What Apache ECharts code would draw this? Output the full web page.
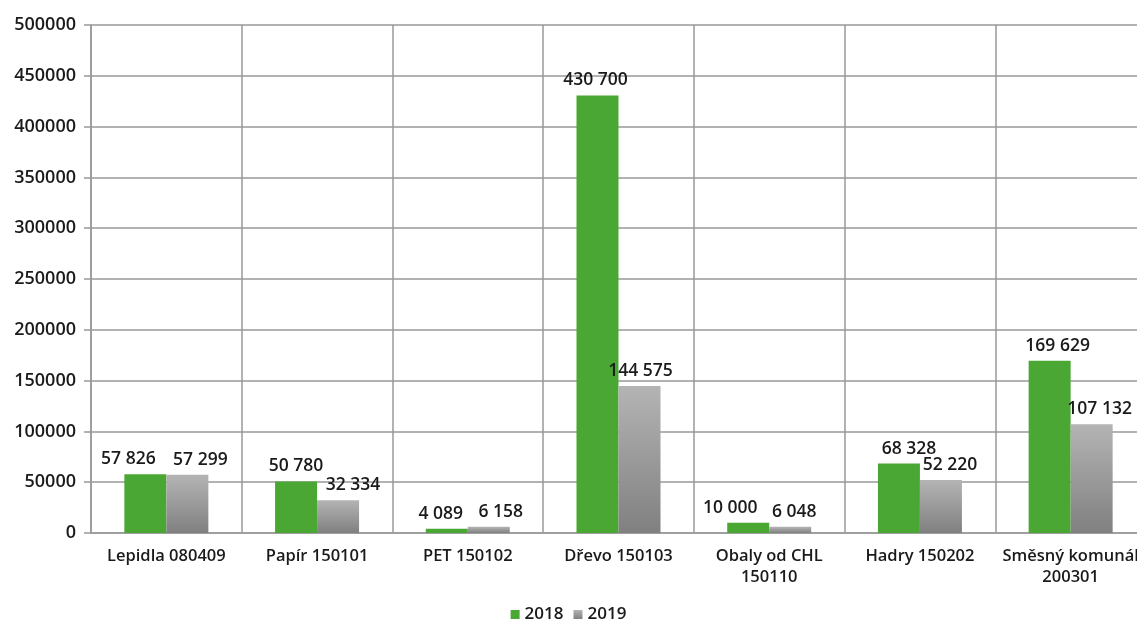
<!DOCTYPE html>
<html>
<head>
<meta charset="utf-8">
<script src="https://cdn.jsdelivr.net/npm/echarts@6/dist/echarts.min.js"></script>
<style>
  html, body { margin: 0; padding: 0; background: #fff; }
  #chart { width: 1137px; height: 619px; }
</style>
</head>
<body>
<div id="chart"></div>
<script>
// kategorie odpadu
const categories = [
  'Lepidla 080409',
  'Papír 150101',
  'PET 150102',
  'Dřevo 150103',
  'Obaly od CHL\n150110',
  'Hadry 150202',
  'Směsný komunál\n200301',
];
const values2018 = [57826, 50780, 4089, 430700, 10000, 68328, 169629];
const values2019 = [57299, 32334, 6158, 144575, 6048, 52220, 107132];
const seriesNames = ['2018', '2019'];

// posun popisků, aby se nepřekrývaly
const labelShift2018 = [-17, 0, -6, -2, -18, 10, 8];
const labelShift2019 = [13, 15, 12, 1, 4, 9, 8];

const fontFamily = '"Open Sans", "Noto Sans", sans-serif';
const textColor = '#1a1a1a';

// tisíce oddělené mezerou
const fmt = (v) => String(v).replace(/\B(?=(\d{3})+(?!\d))/g, ' ');

const chart = echarts.init(document.getElementById('chart'));

const makeData = (values, shifts) =>
  values.map((v, i) => ({
    value: v,
    label: { offset: [shifts[i], 0] },
  }));

const labelStyle = {
  show: true,
  position: 'top',
  distance: 6,
  color: textColor,
  fontSize: 17.5,
  fontWeight: 600,
  fontFamily,
  formatter: (p) => fmt(p.value),
};

chart.setOption({
  animation: false,
  grid: {
    left: 91,
    top: 25,
    width: 1055,
    height: 508,
    outerBoundsMode: 'none',
    containLabel: false,
  },
  legend: {
    data: seriesNames,
    top: 601,
    left: 'center',
    itemWidth: 9,
    itemHeight: 9,
    itemGap: 10,
    icon: 'rect',
    textStyle: { color: textColor, fontSize: 17, fontWeight: 600, fontFamily },
  },
  xAxis: {
    type: 'category',
    data: categories,
    axisLine: { show: true, lineStyle: { color: '#999', width: 1.5 } },
    axisTick: { show: false },
    splitLine: { show: true, lineStyle: { color: '#999', width: 1.5 } },
    axisLabel: {
      color: textColor,
      fontSize: 16.5,
      fontWeight: 600,
      fontFamily,
      margin: 13,
      lineHeight: 21,
      interval: 0,
    },
  },
  yAxis: {
    type: 'value',
    min: 0,
    max: 500000,
    interval: 50000,
    axisLine: { show: true, lineStyle: { color: '#999', width: 1.5 } },
    axisTick: { show: true, length: 7, lineStyle: { color: '#999', width: 1.5 } },
    splitLine: { show: true, lineStyle: { color: '#999', width: 1.5 } },
    axisLabel: {
      color: textColor,
      fontSize: 18,
      fontWeight: 600,
      fontFamily,
      margin: 15,
      formatter: (v) => String(v),
    },
  },
  series: [
    {
      name: seriesNames[0],
      type: 'bar',
      barWidth: 42,
      barGap: '0%',
      itemStyle: { color: '#4ba733' },
      label: labelStyle,
      data: makeData(values2018, labelShift2018),
    },
    {
      name: seriesNames[1],
      type: 'bar',
      barWidth: 42,
      itemStyle: {
        color: new echarts.graphic.LinearGradient(0, 0, 0, 1, [
          { offset: 0, color: '#b4b4b4' },
          { offset: 1, color: '#808080' },
        ]),
      },
      label: labelStyle,
      data: makeData(values2019, labelShift2019),
    },
  ],
});
</script>
</body>
</html>
